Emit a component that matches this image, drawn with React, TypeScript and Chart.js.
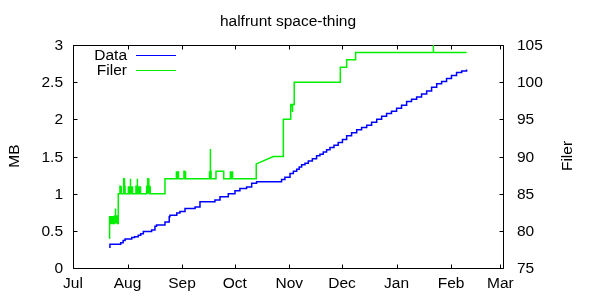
import React, { useEffect, useRef } from 'react';
import { Chart, registerables } from 'chart.js';

Chart.register(...registerables);

// ---------- data ----------
const chartTitle = 'halfrunt space-thing';
const leftAxisTitle = 'MB';
const rightAxisTitle = 'Filer';
const seriesNames = ['Data', 'Filer'];

// x values are days since 1 July
const monthLabels = ['Jul', 'Aug', 'Sep', 'Oct', 'Nov', 'Dec', 'Jan', 'Feb', 'Mar'];
const monthStartDays = [0, 31, 62, 92, 123, 153, 184, 215, 243];
const mbTicks = [0, 0.5, 1, 1.5, 2, 2.5, 3];
const filerTicks = [75, 80, 85, 90, 95, 100, 105];

// Data (MB): step points [day, MB]
const dataPoints: [number, number][] = [
  [20.6, 0.28], [21.0, 0.32], [27.1, 0.34], [28.5, 0.37], [29.6, 0.39], [33.4, 0.41],
  [35.0, 0.42], [37.1, 0.44], [38.5, 0.46], [40.0, 0.49], [44.7, 0.51], [46.6, 0.56],
  [47.5, 0.58], [52.3, 0.62], [54.7, 0.69], [55.1, 0.71], [59.0, 0.74], [60.8, 0.76],
  [63.7, 0.80], [69.4, 0.82], [72.2, 0.89], [80.7, 0.915], [83.6, 0.96], [88.3, 1.0],
  [92.1, 1.04], [94.9, 1.07], [98.7, 1.09], [101.6, 1.14], [104.4, 1.16], [118.6, 1.19],
  [120.5, 1.22], [123.4, 1.27], [125.3, 1.30], [127.2, 1.33], [128.6, 1.36], [130.0, 1.39],
  [131.9, 1.41], [133.8, 1.44], [136.1, 1.47], [138.5, 1.51], [140.4, 1.53], [142.3, 1.56],
  [144.2, 1.59], [146.1, 1.62], [148.4, 1.65], [150.8, 1.69], [153.2, 1.73], [155.6, 1.78],
  [158.4, 1.82], [161.3, 1.86], [164.1, 1.89], [167.0, 1.92], [169.8, 1.96], [172.7, 2.0],
  [175.5, 2.04], [178.3, 2.08], [181.1, 2.11], [184.0, 2.15], [186.8, 2.19], [189.7, 2.24],
  [192.5, 2.27], [195.4, 2.30], [198.2, 2.34], [201.1, 2.38], [203.9, 2.43], [206.8, 2.48],
  [209.6, 2.51], [212.4, 2.55], [215.2, 2.59], [218.1, 2.63], [221.0, 2.65], [223.8, 2.67],
];

// Filer (count): polyline points [day, count]
const filerPoints: [number, number][] = [
  [20.6, 79], [20.6, 82],
  [20.9, 82], [20.9, 81], [21.2, 81], [21.2, 82], [21.5, 82], [21.5, 81], [21.8, 81], [21.8, 82],
  [22.1, 82], [22.1, 81], [22.4, 81], [22.4, 82], [22.7, 82], [22.7, 81], [23.0, 81], [23.0, 82],
  [23.3, 82], [23.3, 81], [23.6, 81], [23.6, 82], [23.9, 82], [23.9, 83], [24.1, 83], [24.1, 81],
  [24.4, 81], [24.4, 82], [24.7, 82], [24.7, 81], [25.0, 81], [25.0, 82], [25.3, 82], [25.3, 81],
  [25.75, 81], [25.75, 85],
  [26.7, 85], [26.7, 86], [26.9, 86], [26.9, 85], [27.3, 85], [27.3, 86], [27.5, 86], [27.5, 85],
  [28.8, 85], [28.8, 87], [29.1, 87], [29.1, 85], [29.4, 85], [29.4, 86], [29.6, 86], [29.6, 85],
  [31.3, 85], [31.3, 86], [31.6, 86], [31.6, 85], [31.9, 85], [31.9, 86], [32.2, 86], [32.2, 85],
  [32.5, 85], [32.5, 87], [32.8, 87], [32.8, 85], [33.1, 85], [33.1, 86], [33.4, 86], [33.4, 85],
  [33.7, 85], [33.7, 86], [33.9, 86], [33.9, 85],
  [35.8, 85], [35.8, 86], [36.1, 86], [36.1, 85], [36.4, 85], [36.4, 87], [36.7, 87], [36.7, 85],
  [37.0, 85], [37.0, 86], [37.3, 86], [37.3, 85], [37.6, 85], [37.6, 86], [37.9, 86], [37.9, 85],
  [38.2, 85], [38.2, 86], [38.5, 86], [38.5, 85],
  [41.9, 85], [41.9, 86], [42.2, 86], [42.2, 85], [42.6, 85], [42.6, 87], [42.9, 87], [42.9, 85],
  [43.2, 85], [43.2, 86], [43.5, 86], [43.5, 85], [43.8, 85], [43.8, 86], [44.0, 86], [44.0, 85],
  [52.3, 85], [52.3, 87],
  [58.6, 87], [58.6, 88], [58.9, 88], [58.9, 87], [59.3, 87], [59.3, 88], [59.6, 88], [59.6, 87],
  [59.9, 87], [59.9, 88], [60.0, 88], [60.0, 87],
  [63.1, 87], [63.1, 88], [63.4, 88], [63.4, 87], [63.8, 87], [63.8, 88], [64.1, 88], [64.1, 87],
  [77.5, 87], [77.5, 88], [77.7, 88], [77.7, 87], [77.9, 87], [77.9, 91], [78.1, 91], [78.1, 87],
  [78.3, 87], [78.3, 88], [78.5, 88], [78.5, 87],
  [81.3, 87], [81.3, 88], [85.7, 88], [85.7, 87],
  [89.3, 87], [89.3, 88], [89.6, 88], [89.6, 87], [90.0, 87], [90.0, 88], [90.3, 88], [90.3, 87],
  [90.6, 87], [90.6, 88], [90.8, 88], [90.8, 87],
  [104.2, 87], [104.2, 89], [113.9, 90],
  [119.6, 90], [119.6, 95],
  [123.8, 95], [123.8, 97], [124.7, 97], [124.7, 96], [124.9, 96], [124.9, 97], [125.8, 97], [125.8, 100],
  [152.0, 100], [152.0, 102], [155.6, 102], [155.6, 103], [160.7, 103], [160.7, 104],
  [204.8, 104], [204.8, 105], [205.0, 105], [205.0, 104],
  [223.8, 104],
];

const xMin = 0;
const xMax = 244.5;
const dataColor = '#0000ff';
const filerColor = '#00ee00';
const FONT = '15.5px "Liberation Sans", Arial, sans-serif';

const decorPlugin = {
  id: 'gnuplotDecor',
  beforeDatasetsDraw(chart: any) {
    const { ctx, chartArea } = chart;
    const xs = chart.scales.x;
    const ys = chart.scales.y;
    const y2s = chart.scales.y2;
    const L = Math.round(chartArea.left) + 0.5;
    const R = Math.round(chartArea.right) + 0.5;
    const T = Math.round(chartArea.top) + 0.5;
    const B = Math.round(chartArea.bottom) + 0.5;
    const tl = 4;
    ctx.save();
    ctx.strokeStyle = '#000';
    ctx.lineWidth = 1;
    ctx.beginPath();
    ctx.rect(L, T, R - L, B - T);
    monthStartDays.forEach((d) => {
      const px = Math.round(xs.getPixelForValue(d)) + 0.5;
      ctx.moveTo(px, B);
      ctx.lineTo(px, B - tl);
      ctx.moveTo(px, T);
      ctx.lineTo(px, T + tl);
    });
    mbTicks.forEach((v) => {
      const py = Math.round(ys.getPixelForValue(v)) + 0.5;
      ctx.moveTo(L, py);
      ctx.lineTo(L + tl, py);
    });
    filerTicks.forEach((v) => {
      const py = Math.round(y2s.getPixelForValue(v)) + 0.5;
      ctx.moveTo(R, py);
      ctx.lineTo(R - tl, py);
    });
    ctx.stroke();
    ctx.restore();
  },
  afterDraw(chart: any) {
    const { ctx, chartArea } = chart;
    const xs = chart.scales.x;
    const ys = chart.scales.y;
    const y2s = chart.scales.y2;
    ctx.save();
    ctx.fillStyle = '#000';
    ctx.font = FONT;
    ctx.textBaseline = 'alphabetic';
    ctx.textAlign = 'center';
    ctx.fillText(chartTitle, (chartArea.left + chartArea.right) / 2, 26);
    monthStartDays.forEach((d, i) => {
      ctx.fillText(monthLabels[i], xs.getPixelForValue(d), 288);
    });
    ctx.textAlign = 'right';
    mbTicks.forEach((v) => {
      ctx.fillText(String(v), 63, ys.getPixelForValue(v) + 5);
    });
    ctx.textAlign = 'left';
    filerTicks.forEach((v) => {
      ctx.fillText(String(v), 517, y2s.getPixelForValue(v) + 5);
    });
    ctx.textAlign = 'center';
    ctx.save();
    ctx.translate(19, 156);
    ctx.rotate(-Math.PI / 2);
    ctx.fillText(leftAxisTitle, 0, 0);
    ctx.restore();
    ctx.save();
    ctx.translate(572, 156);
    ctx.rotate(-Math.PI / 2);
    ctx.fillText(rightAxisTitle, 0, 0);
    ctx.restore();
    ctx.textAlign = 'right';
    ctx.fillText(seriesNames[0], 127, 60);
    ctx.fillText(seriesNames[1], 127, 75);
    ctx.lineWidth = 1;
    ctx.strokeStyle = dataColor;
    ctx.beginPath();
    ctx.moveTo(136, 55.5);
    ctx.lineTo(176, 55.5);
    ctx.stroke();
    ctx.strokeStyle = filerColor;
    ctx.beginPath();
    ctx.moveTo(136, 70.5);
    ctx.lineTo(176, 70.5);
    ctx.stroke();
    ctx.restore();
  },
};

export default function App() {
  const ref = useRef<HTMLCanvasElement | null>(null);
  useEffect(() => {
    document.body.style.margin = '0';
    const canvas = ref.current;
    if (!canvas) return;
    const chart = new Chart(canvas, {
      type: 'line',
      data: {
        datasets: [
          {
            label: seriesNames[0],
            data: dataPoints.map(([x, y]) => ({ x, y })),
            borderColor: dataColor,
            borderWidth: 1.5,
            pointRadius: 0,
            stepped: true,
            fill: false,
            yAxisID: 'y',
          },
          {
            label: seriesNames[1],
            data: filerPoints.map(([x, y]) => ({ x, y })),
            borderColor: filerColor,
            borderWidth: 1.5,
            pointRadius: 0,
            tension: 0,
            fill: false,
            yAxisID: 'y2',
          },
        ],
      },
      options: {
        animation: false,
        responsive: false,
        maintainAspectRatio: false,
        layout: { padding: { left: 73, right: 97, top: 45, bottom: 32 } },
        plugins: {
          legend: { display: false },
          title: { display: false },
          tooltip: { enabled: false },
        },
        scales: {
          x: { type: 'linear', min: xMin, max: xMax, display: false },
          y: { type: 'linear', min: 0, max: 3, display: false },
          y2: { type: 'linear', min: 75, max: 105, display: false, position: 'right' },
        },
      },
      plugins: [decorPlugin],
    });
    return () => chart.destroy();
  }, []);
  return (
    <div style={{ width: 600, height: 300 }}>
      <canvas ref={ref} width={600} height={300} style={{ display: 'block' }} />
    </div>
  );
}
